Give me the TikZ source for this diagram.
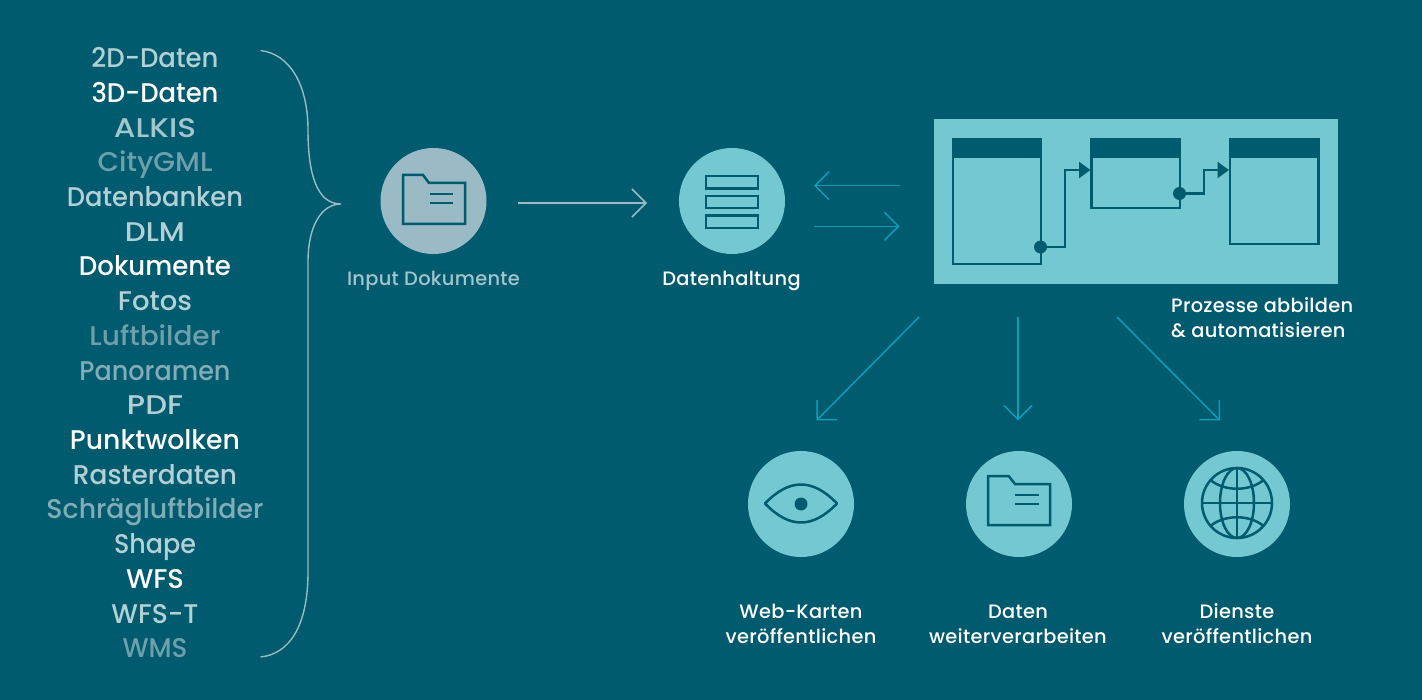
\documentclass[tikz,border=0pt]{standalone}
\usepackage{fontspec}
\usepackage{graphicx}
\setmainfont{Poppins}[UprightFont=* Medium]
\newfontfamily\smallfont[LetterSpace=1.5,UprightFont=* Medium]{Poppins}
\usetikzlibrary{arrows.meta}
\definecolor{bg}{HTML}{005B6E}
\definecolor{teal}{HTML}{73C8D2}
\definecolor{greyc}{HTML}{9ABBC5}
\definecolor{flow}{HTML}{0E9DB8}
\definecolor{ta}{HTML}{B3D0D6}
\definecolor{tb}{HTML}{6F9FAD}
\definecolor{tc}{HTML}{A3C5CD}
\definecolor{td}{HTML}{82ACB8}
\tikzset{
  listitem/.style={anchor=base,inner sep=0pt,font=\fontsize{27}{30}\selectfont},
  caption/.style={anchor=base,inner sep=0pt,text=white,font=\smallfont\fontsize{19.4}{22}\selectfont},
  disc/.style={circle,minimum size=106pt,inner sep=0pt,fill=teal},
  ink/.style={draw=bg,line width=2.5pt,line join=miter},
  tablehead/.style={fill=bg,draw=none},
  barb/.style={-{Straight Barb[length=14pt,width=28pt,line width=1.5pt]},line width=1.5pt},
  flowline/.style={barb,draw=flow},
  palelink/.style={barb,draw=greyc},
  link/.style={draw=bg,line width=2.3pt,-{Triangle[length=11.5pt,width=16pt,fill=bg]}},
  joint/.style={circle,fill=bg,minimum size=13pt,inner sep=0pt}
}
\begin{document}
\begin{tikzpicture}[x=1pt,y=-1pt]
\useasboundingbox (0,0) rectangle (1422,700);
\fill[bg] (0,0) rectangle (1422,700);
% list
\foreach \i/\t/\c/\w in {0/2D-Daten/ta/127,1/3D-Daten/white/127,2/ALKIS/tc/82,3/CityGML/tb/115,4/Datenbanken/ta/176,5/DLM/ta/60,6/Dokumente/white/152,7/Fotos/ta/74,8/Luftbilder/tb/131,9/Panoramen/td/151,10/PDF/ta/56,11/Punktwolken/white/170,12/Rasterdaten/ta/164,13/Schrägluftbilder/td/217,14/Shape/ta/82,15/WFS/white/58,16/WFS-T/ta/87,17/WMS/tb/65}
  \node[listitem,text=\c] (item\i) at (155,{67.8+34.7*\i}) {\resizebox{\w pt}{\height}{\t}};
% brace
\coordinate (bt) at (260.5,50.5);
\coordinate (bm) at (341,204);
\coordinate (bb) at (260.5,657);
\draw[greyc,line width=1.4pt] (bt) .. controls (290,54) and (308,85) .. (308,130)
  .. controls (308,172) and (316,204) .. (bm)
  .. controls (322,204) and (308,225) .. (308,262)
  -- (308,572) .. controls (308,625) and (290,654) .. (bb);
% input circle
\node[disc,fill=greyc] (input) at (433.5,201) {};
\draw[ink] (403,175) -- (423,175) -- (429,183) -- (465,183) -- (465,224) -- (403,224) -- cycle;
\draw[ink] (430,194) -- (453,194) (430,203) -- (453,203);
\node[caption,text=tc] (inputlabel) at (433.5,286) {Input Dokumente};
% store circle
\node[disc] (store) at (732,201) {};
\foreach \a in {176,195.8,215.6}
  \draw[draw=bg,line width=2.5pt] (706,\a) rectangle (758,\a+12.4);
\node[caption] (storelabel) at (731.5,286) {Datenhaltung};
% input->store
\coordinate (a1) at (518,203);
\coordinate (a2) at (647,203);
\draw[palelink] (a1) -- (a2);
% pair
\coordinate (p1) at (899.5,185.7);
\coordinate (p2) at (814,185.7);
\coordinate (p3) at (814,226.3);
\coordinate (p4) at (899.5,226.3);
\draw[flowline] (p1) -- (p2);
\draw[flowline] (p3) -- (p4);
% process panel
\node[fill=teal,inner sep=0pt,minimum width=404.5pt,minimum height=165pt] (panel) at (1135.8,201.5) {};
\draw[ink,line width=2.3pt] (953,139.5) rectangle (1041,264);
\fill[tablehead] (952,139) rectangle (1042,158);
\draw[ink,line width=2.3pt] (1091.6,139.5) rectangle (1180,208);
\fill[tablehead] (1090.5,139) rectangle (1181,158);
\draw[ink,line width=2.3pt] (1230,139.5) rectangle (1318.5,244);
\fill[tablehead] (1229,139) rectangle (1319.5,158);
\node[joint] (j1) at (1040.5,247) {};
\node[joint] (j2) at (1179.5,193.5) {};
\coordinate (t2) at (1090.5,170);
\coordinate (t3) at (1229,170);
\draw[link] (j1.center) -| (1064.7,170) -- (t2);
\draw[link] (j2.center) -| (1203.7,170) -- (t3);
\node[caption,anchor=base west] (proc1) at (1171,313) {Prozesse abbilden};
\node[caption,anchor=base west] (proc2) at (1171,338) {\& automatisieren};
% outgoing
\node[disc] (web) at (801,504) {};
\node[disc] (data) at (1019,504) {};
\node[disc] (serv) at (1237,504) {};
\coordinate (o1) at (919,317);
\coordinate (o2) at (816.5,420.5);
\coordinate (o3) at (1018,317);
\coordinate (o4) at (1018,420.5);
\coordinate (o5) at (1117,317);
\coordinate (o6) at (1220,420.5);
\draw[flowline] (o1) -- (o2);
\draw[flowline] (o3) -- (o4);
\draw[flowline] (o5) -- (o6);
% eye
\draw[ink,line join=round] (765,503.5) .. controls (777,491) and (789,484.5) .. (801,484.5)
  .. controls (813,484.5) and (825,491) .. (837,503.5)
  .. controls (825,516) and (813,522.5) .. (801,522.5)
  .. controls (789,522.5) and (777,516) .. cycle;
\fill[bg] (801,504) circle (6.5);
% folder
\draw[ink] (988,476) -- (1008.6,476) -- (1015,484) -- (1050,484) -- (1050,525) -- (988,525) -- cycle;
\draw[ink] (1015,495) -- (1039,495) (1015,504) -- (1039,504);
% globe
\draw[ink] (1237,503) circle (35);
\draw[ink] (1237,503) ellipse (17 and 35);
\draw[ink] (1237,468) -- (1237,538) (1202,503) -- (1272,503);
\draw[ink] (1211,480.5) .. controls (1225,491.5) and (1249,491.5) .. (1263,480.5);
\draw[ink] (1211,525.5) .. controls (1225,514.5) and (1249,514.5) .. (1263,525.5);
% captions
\node[caption] (w1) at (801,618) {Web-Karten};
\node[caption] (w2) at (801,643) {veröffentlichen};
\node[caption] (d1) at (1018,618) {Daten};
\node[caption] (d2) at (1018,643) {weiterverarbeiten};
\node[caption] (s1) at (1237,618) {Dienste};
\node[caption] (s2) at (1237,643) {veröffentlichen};
\end{tikzpicture}
\end{document}
